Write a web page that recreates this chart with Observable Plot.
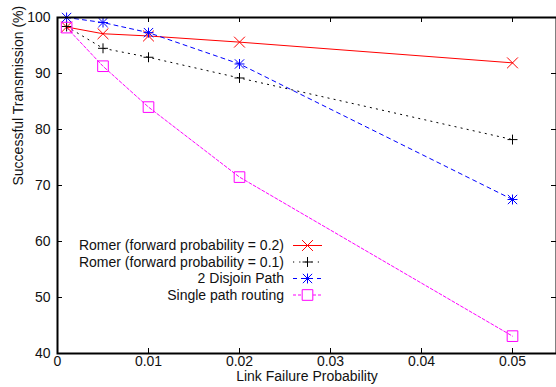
<!DOCTYPE html>
<html><head><meta charset="utf-8">
<script src="https://cdn.jsdelivr.net/npm/d3@7"></script>
<script src="https://cdn.jsdelivr.net/npm/@observablehq/plot@0.6"></script>
<style>html,body{margin:0;padding:0;background:#fff;overflow:hidden}</style>
</head><body><div id="chart"></div>
<script>
// ---- data ----
const xValues = [0.001, 0.005, 0.01, 0.02, 0.05];
const romer02 = [98.3, 97.1, 96.7, 95.6, 91.9];
const romer01 = [98.4, 94.5, 92.9, 89.2, 78.2];
const disjoint2 = [100, 99.1, 97.3, 91.7, 67.5];
const singlePath = [98.2, 91.3, 84.0, 71.5, 43.1];
const seriesNames = [
  "Romer (forward probability = 0.2)",
  "Romer (forward probability = 0.1)",
  "2 Disjoin Path",
  "Single path routing"
];
const xTicks = [0, 0.01, 0.02, 0.03, 0.04, 0.05];
const xTickLabels = ["0", "0.01", "0.02", "0.03", "0.04", "0.05"];
const yTicks = [40, 50, 60, 70, 80, 90, 100];
const xLabel = "Link Failure Probability";
const yLabel = "Successful Transmission (%)";

// ---- styles ----
const styles = [
  {color: "#ff0000", dash: null, symbols: [{s: "times", r: 5}]},
  {color: "#000000", dash: "1.2,5", symbols: [{s: "plus", r: 3.3}]},
  {color: "#0000ff", dash: "4,4", symbols: [{s: "plus", r: 3.3}, {s: "times", r: 4.3}]},
  {color: "#ff00ff", dash: "3,2", symbols: [{s: "square", r: 6}]}
];
const seriesValues = [romer02, romer01, disjoint2, singlePath];
const data = seriesValues.map((vals, k) => xValues.map((x, i) => ({x, y: vals[i], k})));

const W = 556, H = 387, mL = 57, mR = 0, mT = 17, mB = 34;
const fw = W - mL - mR, fh = H - mT - mB;
const font = "Liberation Sans, Arial, Helvetica, sans-serif";
const fs = 14;

const marks = [];
data.forEach((rows, k) => {
  const st = styles[k];
  marks.push(Plot.line(rows, {x: "x", y: "y", stroke: st.color, strokeWidth: 1, strokeDasharray: st.dash}));
});
data.forEach((rows, k) => {
  const st = styles[k];
  st.symbols.forEach(sym => {
    marks.push(Plot.dot(rows, {x: "x", y: "y", symbol: sym.s, r: sym.r, stroke: st.color, fill: "none", strokeWidth: 1}));
  });
});

// ticks (inward, mirrored)
marks.push(Plot.tickX(xTicks, {x: d => d, insetTop: fh - 5, stroke: "#000"}));
marks.push(Plot.tickX(xTicks, {x: d => d, insetBottom: fh - 5, stroke: "#000"}));
marks.push(Plot.tickY(yTicks, {y: d => d, insetRight: fw - 5, stroke: "#000"}));
marks.push(Plot.tickY(yTicks, {y: d => d, insetLeft: fw - 5, stroke: "#000"}));
marks.push(Plot.frame({stroke: "#000", strokeWidth: 2}));

// tick labels
marks.push(Plot.text(xTicks, {x: d => d, text: (d, i) => xTickLabels[i], frameAnchor: "bottom", dy: 12, fontSize: fs, fill: "#111"}));
marks.push(Plot.text(yTicks, {y: d => d, text: d => String(d), frameAnchor: "left", textAnchor: "end", dx: -7, fontSize: fs, fill: "#111"}));
// axis labels
marks.push(Plot.text([xLabel], {text: d => d, frameAnchor: "bottom", dy: 27, fontSize: fs, fill: "#111"}));
marks.push(Plot.text([yLabel], {text: d => d, frameAnchor: "left", rotate: -90, dx: -39, fontSize: fs, fill: "#111"}));

const chart = Plot.plot({
  width: W, height: H,
  marginLeft: mL, marginRight: mR, marginTop: mT, marginBottom: mB,
  style: {fontFamily: font, fontSize: fs + "px", background: "#fff", overflow: "visible"},
  x: {domain: [0, 0.055], range: [mL, mL + 0.055 * 9100], axis: null},
  y: {domain: [40, 100], axis: null},
  marks
});
document.getElementById("chart").appendChild(chart);

// legend inside the plot
const svg = d3.select(chart);
const lg = svg.append("g").attr("font-family", font).attr("font-size", fs);
const textRight = 284, sx1 = 293, sx2 = 322, rowY0 = 245.5, rowStep = 16.5;
const d3sym = {times: d3.symbolTimes, plus: d3.symbolPlus, square: d3.symbolSquare};
seriesNames.forEach((name, k) => {
  const st = styles[k];
  const y = rowY0 + k * rowStep;
  lg.append("text").attr("x", textRight).attr("y", y).attr("dy", "0.35em")
    .attr("text-anchor", "end").attr("fill", "#111").text(name);
  lg.append("line").attr("x1", sx1).attr("x2", sx2).attr("y1", y).attr("y2", y)
    .attr("stroke", st.color).attr("stroke-width", 1)
    .attr("stroke-dasharray", st.dash);
  st.symbols.forEach(sym => {
    lg.append("path").attr("transform", `translate(${(sx1 + sx2) / 2},${y})`)
      .attr("d", d3.symbol(d3sym[sym.s], Math.PI * sym.r * sym.r)())
      .attr("stroke", st.color).attr("fill", sym.s === "square" ? "#fff" : "none").attr("stroke-width", 1);
  });
});
</script>
</body></html>
